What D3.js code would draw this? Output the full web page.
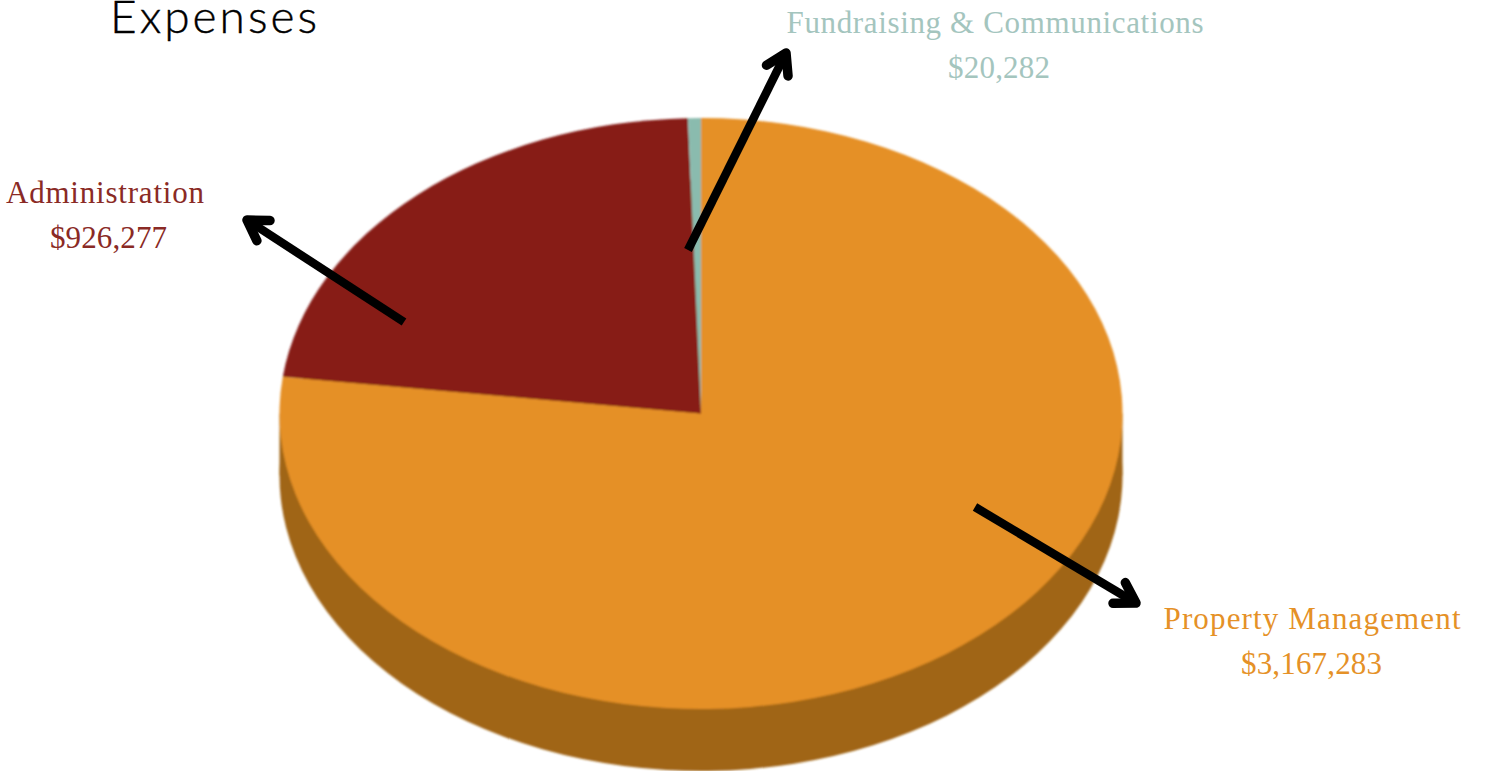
<!DOCTYPE html>
<html>
<head>
<meta charset="utf-8">
<script src="https://cdn.jsdelivr.net/npm/d3@7/dist/d3.min.js"></script>
<style>
  html, body { margin: 0; padding: 0; background: #fff; overflow: hidden; }
  svg { display: block; }
  .label { font-family: "Liberation Serif", serif; font-size: 31px; text-anchor: middle; }
  .title { font-family: "Lato", sans-serif; font-weight: 300; font-size: 46px; letter-spacing: 3px; fill: #000; stroke: #000; stroke-width: 0.4px; }
</style>
</head>
<body>
<svg id="chart" width="1486" height="771"></svg>
<script>
// Expense breakdown
const categories = ["Property Management", "Administration", "Fundraising & Communications"];
const amounts = [3167283, 926277, 20282];
const topColors = ["#E59026", "#871C19", "#8ABBAE"];
const wallColor = "#A06517";
const labelColors = ["#E59127", "#8A2A25", "#A4C5BE"];

// Pie geometry: a flat disc tilted into an ellipse, with a visible rim below it
const cx = 701, cy = 413.5, rx = 421.5, ry = 295.5, rimDepth = 62;

// Label placement in page pixels: centre and fitted width of the name and amount lines
const nameAnchors = [[1312, 629], [105, 203], [995, 33]];
const amountAnchors = [[1311.5, 674], [108.5, 248], [999, 78]];
const nameWidths = [297, 198, 417];
const amountWidths = [141, 117, 102];

// Leader arrows, in page pixels
const arrowLines = [
  [[975, 507], [1136, 603]],
  [[404, 322], [247, 220]],
  [[688, 250], [786, 53]]
];

const svg = d3.select("#chart");
const money = d3.format("$,");

// Gentle softening of the pie's edges
svg.append("defs").append("filter")
  .attr("id", "soft")
  .attr("x", "-2%").attr("y", "-2%").attr("width", "104%").attr("height", "104%")
  .append("feGaussianBlur").attr("stdDeviation", 0.8);

const pie = d3.pie().sort(null).value(d => d.amount);
const slices = pie(categories.map((name, i) => ({ name, amount: amounts[i], i })));
const arc = d3.arc().innerRadius(0).outerRadius(rx);

const disc = svg.append("g").attr("filter", "url(#soft)");

// Rim: lower disc plus the band joining it to the top face
const rim = disc.append("g");
rim.selectAll("path")
  .data(slices)
  .join("path")
  .attr("transform", `translate(${cx},${cy + rimDepth}) scale(1,${ry / rx})`)
  .attr("d", arc)
  .attr("fill", wallColor);
rim.append("rect")
  .attr("x", cx - rx).attr("y", cy)
  .attr("width", rx * 2).attr("height", rimDepth)
  .attr("fill", wallColor);

// Top face
disc.append("g")
  .attr("transform", `translate(${cx},${cy}) scale(1,${ry / rx})`)
  .selectAll("path")
  .data(slices)
  .join("path")
  .attr("d", arc)
  .attr("fill", d => topColors[d.data.i]);

// Leader arrows with open, round-capped heads
const line = d3.line();
const headLength = 23, headSpread = 0.55;
const arrows = svg.append("g")
  .attr("fill", "none").attr("stroke", "#000")
  .attr("stroke-width", 8.5);
arrowLines.forEach(([from, to]) => {
  arrows.append("path").attr("d", line([from, to]));
  const angle = Math.atan2(from[1] - to[1], from[0] - to[0]);
  const wing = s => [to[0] + headLength * Math.cos(angle + s * headSpread),
                     to[1] + headLength * Math.sin(angle + s * headSpread)];
  arrows.append("path")
    .attr("d", line([wing(1), to, wing(-1)]))
    .attr("stroke-width", 9.5)
    .attr("stroke-linecap", "round")
    .attr("stroke-linejoin", "round");
});

// Category labels with their amounts
const labels = svg.append("g").selectAll("g")
  .data(categories)
  .join("g")
  .attr("fill", (d, i) => labelColors[i]);
labels.append("text").attr("class", "label")
  .attr("x", (d, i) => nameAnchors[i][0])
  .attr("y", (d, i) => nameAnchors[i][1])
  .attr("textLength", (d, i) => nameWidths[i])
  .attr("lengthAdjust", "spacing")
  .text(d => d);
labels.append("text").attr("class", "label")
  .attr("x", (d, i) => amountAnchors[i][0])
  .attr("y", (d, i) => amountAnchors[i][1])
  .attr("textLength", (d, i) => amountWidths[i])
  .attr("lengthAdjust", "spacing")
  .text((d, i) => money(amounts[i]));

svg.append("text").attr("class", "title")
  .attr("x", 110).attr("y", 33)
  .text("Expenses");
</script>
</body>
</html>
